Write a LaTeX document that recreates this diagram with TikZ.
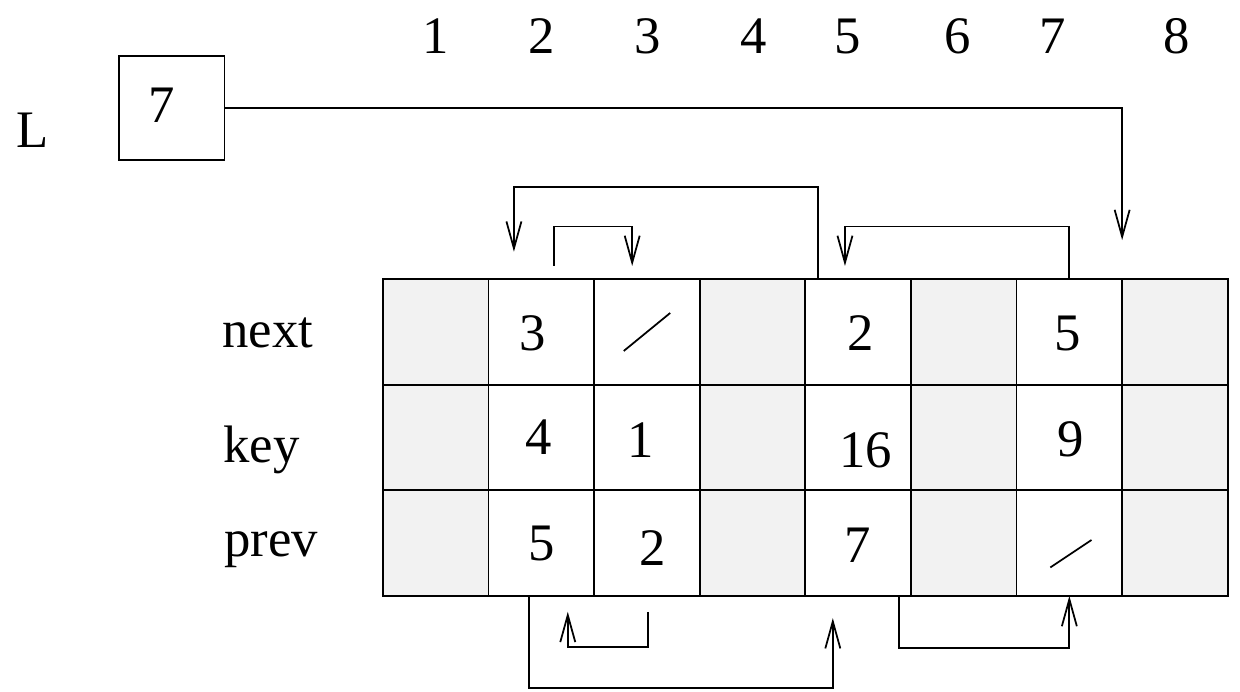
\documentclass[tikz,border=0pt]{standalone}
\usepackage{fontspec}
\setmainfont{Liberation Serif}
\usetikzlibrary{arrows.meta,calc}

\definecolor{cellgray}{RGB}{242,242,242}

\tikzset{
  cell/.style={draw,minimum size=2.112cm,inner sep=0pt,outer sep=0pt},
  freecell/.style={cell,fill=cellgray},
  lbl/.style={font=\fontsize{30}{36}\selectfont,inner sep=0pt}
}

\begin{document}
\begin{tikzpicture}[x=2.112cm,y=2.112cm,line width=1pt,>={Straight Barb[length=5.4mm,width=3mm]}]
  \useasboundingbox (-3.627,-0.9) rectangle (8.116,5.644);
  % arreglos next / key / prev
  \foreach \c in {1,4,6,8} \foreach \r/\y in {n/2,k/1,p/0}
    \node[freecell] (c\c\r) at (\c-0.5,\y+0.5) {};
  \foreach \c in {2,3,5,7} \foreach \r/\y in {n/2,k/1,p/0}
    \node[cell] (c\c\r) at (\c-0.5,\y+0.5) {};
  % indices
  \foreach \x [count=\i] in {0.50,1.50,2.51,3.51,4.40,5.44,6.34,7.52}
    \node[lbl] (h\i) at (\x,5.30) {\i};
  \node[lbl] (rn) at (-1.09,2.49) {next};
  \node[lbl] (rk) at (-1.15,1.38) {key};
  \node[lbl] (rp) at (-1.06,0.44) {prev};
  % cabeza de la lista
  \node[lbl] (L) at (-3.314,4.413) {L};
  \node[cell,minimum width=2.112cm,minimum height=2.08cm] (head) at (-2.0,4.62) {};
  \node[lbl] (headval) at (-2.1,4.65) {7};
  % contenidos
  \node[lbl] (n2) at (1.42,2.49) {3};
  \node[lbl] (n5) at (4.52,2.49) {2};
  \node[lbl] (n7) at (6.48,2.49) {5};
  \node[lbl] (k2) at (1.47,1.50) {4};
  \node[lbl] (k3) at (2.44,1.48) {1};
  \node[lbl] (k5) at (4.57,1.38) {16};
  \node[lbl] (k7) at (6.51,1.48) {9};
  \node[lbl] (p2) at (1.50,0.50) {5};
  \node[lbl] (p3) at (2.55,0.45) {2};
  \node[lbl] (p5) at (4.50,0.48) {7};
  % NIL
  \draw (2.28,2.32) -- (2.72,2.68);
  \draw (6.32,0.27) -- (6.71,0.53);
  % punteros
  \draw[->] (head.east) -| ($(c8n.north west)+(0,0.37)$);
  \draw[->] ($(c5n.north west)+(0.12,0)$) |- (1.24,3.87) -- (1.24,3.26);
  \draw[->] (1.62,3.125) |- (2.36,3.50) -- (2.36,3.125);
  \draw[->] (c7n.north) |- (4.375,3.50) -- (4.375,3.125);
  \draw[->] ($(c2p.south west)+(0.38,0)$) |- (4.26,-0.87) -- (4.26,-0.21);
  \draw[->] (2.51,-0.15) |- (1.75,-0.48) -- (1.75,-0.15);
  \draw[->] ($(c5p.south west)+(0.89,0)$) -- ++(0,-0.49) -| (c7p.south);
\end{tikzpicture}
\end{document}
